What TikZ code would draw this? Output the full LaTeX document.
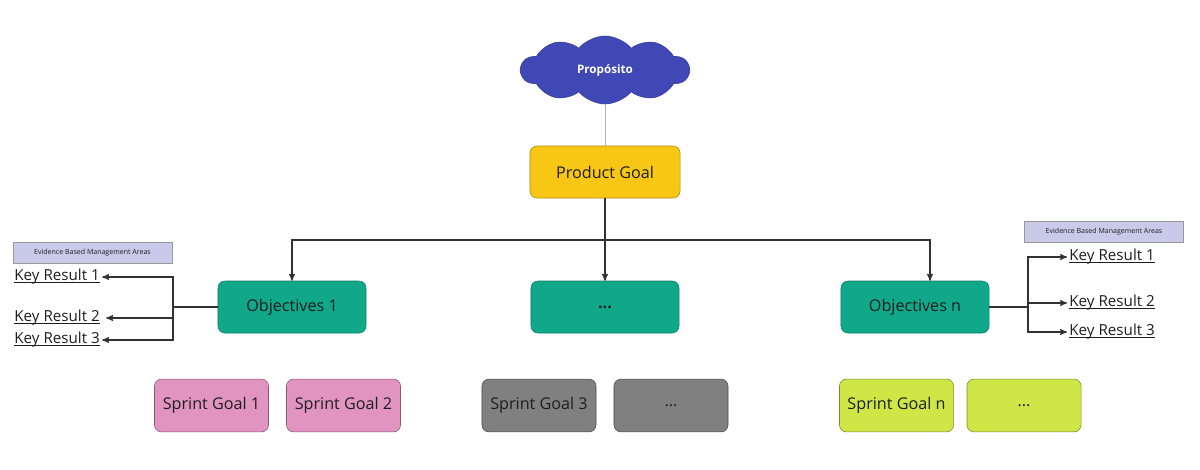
\documentclass[tikz,border=0pt]{standalone}
\usepackage{fontspec}
\setmainfont{Open Sans}
\usepackage{xcolor}
\usetikzlibrary{arrows}
\usetikzlibrary{shapes.symbols}
\definecolor{cloudblue}{RGB}{64,72,182}
\definecolor{goalyellow}{RGB}{248,199,22}
\definecolor{objteal}{RGB}{16,168,136}
\definecolor{sprintpink}{RGB}{226,148,193}
\definecolor{sprintgray}{RGB}{128,128,128}
\definecolor{sprintlime}{RGB}{207,231,70}
\definecolor{ebmlilac}{RGB}{201,201,234}
\definecolor{inktext}{RGB}{30,30,30}
\definecolor{wire}{RGB}{50,50,50}
\newsavebox{\krbox}
\newcommand{\krline}[1]{\sbox{\krbox}{#1}\rlap{\rule[-1.5pt]{\wd\krbox}{0.55pt}}\usebox{\krbox}}
\tikzset{
    tnode/.style = {align=center, inner sep=0pt, text centered},
    box/.style = {tnode, rectangle, rounded corners=5pt, thin, text=inktext, font=\fontsize{11.5}{13}\selectfont},
    cloud_node/.style = {tnode, cloud, cloud puffs=10, cloud puff arc=100, aspect=2.5, fill=cloudblue, draw=cloudblue!85!black, text=white, font=\fontsize{8.3}{9}\selectfont\bfseries, minimum width=4.2cm, minimum height=1.7cm},
    goal_node/.style = {box, fill=goalyellow, draw=goalyellow!70!black, minimum width=3.75cm, minimum height=1.3cm},
    obj_node/.style = {box, fill=objteal, draw=objteal!75!black, minimum width=3.7cm, minimum height=1.3cm},
    pink_node/.style = {box, fill=sprintpink, draw=sprintpink!60!black, minimum width=2.85cm, minimum height=1.32cm},
    gray_node/.style = {box, fill=sprintgray, draw=sprintgray!60!black, minimum width=2.85cm, minimum height=1.32cm},
    lime_node/.style = {box, fill=sprintlime, draw=sprintlime!60!black, minimum width=2.85cm, minimum height=1.32cm},
    ebm_node/.style = {tnode, rectangle, fill=ebmlilac, draw=gray!80, text=inktext, font=\fontsize{5}{6}\selectfont, minimum width=3.975cm, minimum height=0.525cm},
    kr_node/.style = {tnode, inner sep=1.5pt, text=inktext, font=\fontsize{10.8}{12}\selectfont, text height=1.6ex, text depth=0.6ex}
}

\begin{document}
\begin{tikzpicture}
    [x=0.025cm, y=-0.025cm, >=stealth',
    wire/.style={draw=wire, line width=0.8pt}]

    \useasboundingbox (0,0) rectangle (1200,469);

    % purpose and product goal
    \node [cloud_node] (purpose) at (605,70) {Propósito};
    \node [goal_node] (pg) at (605,172) {Product Goal};
    \draw [gray!60, thin] (purpose.south) -- (pg.north);

    % objectives
    \node [obj_node] (obj1) at (292,307) {Objectives 1};
    \node [obj_node] (objm) at (605,307) {\textbf{...}};
    \node [obj_node] (objn) at (915,307) {Objectives n};

    \draw [wire] (pg.south) -- (605,240) coordinate (bus);
    \draw [wire, ->] (bus) -| (obj1.north);
    \draw [wire, ->] (bus) -- (objm.north);
    \draw [wire, ->] (bus) -| ([xshift=0.375cm]objn.north);

    % key results, left
    \node [ebm_node] (ebml) at (92.5,252.5) {Evidence Based Management Areas};
    \node [kr_node, anchor=west] (kl1) at (12,277) {\krline{Key Result 1}};
    \node [kr_node, anchor=west] (kl2) at (12,318) {\krline{Key Result 2}};
    \node [kr_node, anchor=west] (kl3) at (12,340) {\krline{Key Result 3}};

    \draw [wire] (obj1.west) -- (173,307) coordinate (jl);
    \draw [wire, ->] (jl) |- (kl1.east);
    \draw [wire, ->] (jl) |- ([xshift=0.1cm]kl2.east);
    \draw [wire, ->] (jl) |- (kl3.east);

    % key results, right
    \node [ebm_node] (ebmr) at (1104,231.5) {Evidence Based Management Areas};
    \node [kr_node, anchor=west] (kr1) at (1067,257) {\krline{Key Result 1}};
    \node [kr_node, anchor=west] (kr2) at (1067,303) {\krline{Key Result 2}};
    \node [kr_node, anchor=west] (kr3) at (1067,332) {\krline{Key Result 3}};

    \draw [wire] (objn.east) -- (1028,307) coordinate (jr);
    \draw [wire, ->] (jr) |- (kr1.west);
    \draw [wire, ->] (jr) |- (kr2.west);
    \draw [wire, ->] (jr) |- (kr3.west);

    % sprint goals
    \node [pink_node] (sg1) at (211.5,405.5) {Sprint Goal 1};
    \node [pink_node] (sg2) at (343.5,405.5) {Sprint Goal 2};
    \node [gray_node] (sg3) at (539,405.5) {Sprint Goal 3};
    \node [gray_node] (sgm) at (671,405.5) {...};
    \node [lime_node] (sgn) at (896.5,405.5) {Sprint Goal n};
    \node [lime_node] (sgx) at (1024,405.5) {...};
\end{tikzpicture}
\end{document}
